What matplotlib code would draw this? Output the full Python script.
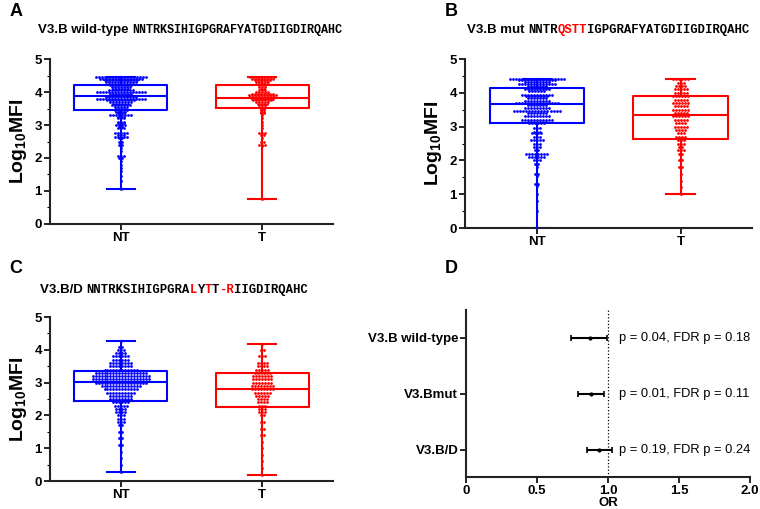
import numpy as np
import matplotlib
matplotlib.use("Agg")
import matplotlib.pyplot as plt
from matplotlib.ticker import MultipleLocator

plt.rcParams['font.family'] = ['Liberation Sans', 'DejaVu Sans']
plt.rcParams['mathtext.fontset'] = 'custom'
plt.rcParams['mathtext.bf'] = 'Liberation Sans:bold'
plt.rcParams['mathtext.rm'] = 'Liberation Sans'

BLUE = '#0000ff'
RED = '#ff0000'

groups = ['NT', 'T']

# Panel A: V3.B wild-type  (level, count)
a_nt_levels = [4.45, 4.40, 4.35, 4.30, 4.25, 4.20, 4.15, 4.10, 4.05, 4.00, 3.95, 3.90, 3.85,
               3.80, 3.75, 3.70, 3.65, 3.60, 3.55, 3.50, 3.45, 3.40, 3.35, 3.30, 3.25, 3.20,
               3.10, 3.05, 3.00, 2.95, 2.90, 2.75, 2.70, 2.65, 2.60, 2.50, 2.40, 2.30, 2.20,
               2.05, 2.00, 1.90, 1.80, 1.70, 1.60, 1.45, 1.30, 1.05]
a_nt_counts = [18, 15, 12, 11, 9, 8, 7, 6, 9, 17, 8, 6, 11,
               17, 10, 8, 6, 7, 5, 4, 5, 4, 3, 8, 3, 3,
               3, 3, 4, 2, 3, 5, 3, 5, 2, 2, 2, 1, 1,
               3, 2, 1, 1, 1, 1, 1, 1, 1]
a_t_levels = [4.45, 4.40, 4.35, 4.30, 4.25, 4.20, 4.15, 4.10, 4.05, 4.00, 3.95, 3.90, 3.85,
              3.80, 3.75, 3.70, 3.65, 3.60, 3.55, 3.50, 3.45, 3.40, 3.35, 3.30, 3.20, 3.10,
              3.00, 2.90, 2.75, 2.70, 2.60, 2.50, 2.40, 2.35, 0.75]
a_t_counts = [9, 8, 6, 5, 4, 3, 3, 2, 3, 5, 8, 10, 9,
              8, 7, 5, 4, 3, 3, 2, 2, 2, 2, 1, 1, 1,
              1, 1, 3, 2, 1, 2, 3, 1, 1]
# box stats: q1, median, q3, min, max
a_nt_box = [3.45, 3.87, 4.20, 1.05, 4.45]
a_t_box = [3.52, 3.82, 4.20, 0.75, 4.45]

# Panel B: V3.B mut
b_nt_levels = [4.42, 4.38, 4.33, 4.25, 4.20, 4.10, 4.05, 3.95, 3.90, 3.85, 3.75, 3.70, 3.65,
               3.55, 3.45, 3.40, 3.30, 3.20, 3.15, 3.10, 2.95, 2.85, 2.80, 2.70, 2.60, 2.50,
               2.40, 2.30, 2.20, 2.10, 2.00, 1.90, 1.80, 1.60, 1.55, 1.30, 1.25, 1.00, 0.80,
               0.50, 0.00]
b_nt_counts = [19, 13, 9, 13, 7, 9, 6, 11, 8, 7, 9, 15, 7,
               9, 16, 7, 9, 11, 7, 6, 3, 3, 4, 3, 5, 3,
               3, 2, 8, 6, 3, 2, 1, 2, 1, 2, 1, 1, 1,
               1, 1]
b_t_levels = [4.40, 4.30, 4.20, 4.10, 4.00, 3.90, 3.80, 3.70, 3.60, 3.50, 3.40, 3.30, 3.20,
              3.10, 3.00, 2.90, 2.80, 2.70, 2.60, 2.50, 2.40, 2.30, 2.20, 2.00, 1.80, 1.60,
              1.40, 1.20, 1.00]
b_t_counts = [6, 3, 4, 5, 5, 6, 5, 6, 5, 6, 5, 6, 5,
              4, 5, 4, 3, 4, 3, 3, 2, 3, 2, 2, 2, 1,
              1, 1, 1]
b_nt_box = [3.12, 3.68, 4.14, 0.00, 4.42]
b_t_box = [2.62, 3.33, 3.90, 1.00, 4.42]

# Panel C: V3.B/D
c_nt_levels = [4.28, 4.10, 4.00, 3.90, 3.80, 3.70, 3.60, 3.50, 3.40, 3.30, 3.20, 3.10, 3.00,
               2.90, 2.80, 2.70, 2.60, 2.50, 2.40, 2.30, 2.20, 2.10, 2.00, 1.90, 1.80, 1.70,
               1.50, 1.30, 1.10, 0.90, 0.70, 0.50, 0.28]
c_nt_counts = [1, 2, 3, 4, 6, 6, 8, 8, 12, 18, 20, 20, 18,
               14, 12, 10, 8, 8, 6, 5, 4, 4, 3, 3, 3, 2,
               2, 2, 2, 1, 1, 1, 1]
c_t_levels = [4.18, 4.00, 3.80, 3.60, 3.50, 3.40, 3.30, 3.20, 3.10, 3.00, 2.90, 2.80, 2.70,
              2.60, 2.50, 2.40, 2.30, 2.20, 2.10, 2.00, 1.80, 1.60, 1.40, 1.20, 1.00, 0.80,
              0.60, 0.40, 0.18]
c_t_counts = [1, 2, 3, 4, 4, 5, 6, 7, 7, 7, 8, 8, 6,
              5, 4, 4, 3, 3, 3, 2, 2, 2, 2, 1, 1, 1,
              1, 1, 1]
c_nt_box = [2.43, 3.02, 3.35, 0.28, 4.28]
c_t_box = [2.25, 2.80, 3.28, 0.18, 4.18]

# Panel D: odds ratios
or_labels = ['V3.B wild-type', 'V3.Bmut', 'V3.B/D']
or_est = [0.87, 0.88, 0.94]
or_low = [0.74, 0.79, 0.85]
or_high = [0.99, 0.97, 1.03]
or_text = ['p = 0.04, FDR p = 0.18', 'p = 0.01, FDR p = 0.11', 'p = 0.19, FDR p = 0.24']


def swarm(levels, counts, center, dx=0.021):
    xs, ys = [], []
    for lv, n in zip(levels, counts):
        off = (np.arange(n) - (n - 1) / 2.0) * dx
        xs.extend(center + off)
        ys.extend([lv] * n)
    return np.array(xs), np.array(ys)


def box_panel(ax, nt, t, nt_box, t_box):
    for i, (pts, bx, col) in enumerate([(nt, nt_box, BLUE), (t, t_box, RED)]):
        stats = [dict(q1=bx[0], med=bx[1], q3=bx[2], whislo=bx[3], whishi=bx[4], fliers=[])]
        lp = dict(color=col, linewidth=1.5)
        ax.bxp(stats, positions=[i], widths=0.66, showfliers=False,
               boxprops=lp, medianprops=lp, whiskerprops=lp, capprops=lp,
               capwidths=0.2, manage_ticks=False, zorder=2)
        x, y = swarm(pts[0], pts[1], i)
        ax.scatter(x, y, s=4, color=col, linewidths=0, zorder=3)
    ax.set_xlim(-0.5, 1.5)
    ax.set_ylim(0, 5)
    ax.set_xticks([0, 1])
    ax.set_xticklabels(groups, fontweight='bold', fontsize=9.5)
    ax.set_yticks(range(6))
    ax.set_yticklabels([str(v) for v in range(6)], fontweight='bold', fontsize=9.5)
    ax.yaxis.set_minor_locator(MultipleLocator(0.5))
    ax.tick_params(axis='both', which='major', length=4, width=1.2, pad=2)
    ax.tick_params(axis='y', which='minor', length=2, width=0.8)
    ax.set_ylabel(r'$\mathbf{Log_{10}MFI}$', fontsize=14, labelpad=4)
    for s in ['top', 'right']:
        ax.spines[s].set_visible(False)
    for s in ['left', 'bottom']:
        ax.spines[s].set_linewidth(1.5)
        ax.spines[s].set_color('#222222')


def seg_text(fig, x, y, segments):
    r = fig.canvas.get_renderer()
    for txt, col, fam, size in segments:
        t = fig.text(x, y, txt, color=col, family=fam, fontsize=size,
                     fontweight='bold', va='center', ha='left')
        bb = t.get_window_extent(renderer=r)
        x = bb.x1 / fig.bbox.width


fig = plt.figure(figsize=(7.6, 5.09), dpi=100)

axA = fig.add_axes([0.066, 0.560, 0.372, 0.324])
box_panel(axA, (a_nt_levels, a_nt_counts), (a_t_levels, a_t_counts), a_nt_box, a_t_box)

axB = fig.add_axes([0.612, 0.552, 0.378, 0.332])
box_panel(axB, (b_nt_levels, b_nt_counts), (b_t_levels, b_t_counts), b_nt_box, b_t_box)

axC = fig.add_axes([0.066, 0.055, 0.372, 0.322])
box_panel(axC, (c_nt_levels, c_nt_counts), (c_t_levels, c_t_counts), c_nt_box, c_t_box)

axD = fig.add_axes([0.613, 0.062, 0.374, 0.329])
ypos = [3, 2, 1]
for yy, e, lo, hi, txt in zip(ypos, or_est, or_low, or_high, or_text):
    axD.errorbar([e], [yy], xerr=[[e - lo], [hi - e]], fmt='o', color='black',
                 markersize=2, elinewidth=1.5, capsize=2, capthick=1.2)
    axD.text(1.08, yy, txt, fontsize=9.3, va='center', ha='left')
axD.axvline(1.0, color='black', linestyle=':', linewidth=0.9)
axD.set_xlim(0, 2.0)
axD.set_ylim(0.5, 3.5)
axD.set_xticks([0, 0.5, 1.0, 1.5, 2.0])
axD.set_xticklabels(['0', '0.5', '1.0', '1.5', '2.0'], fontweight='bold', fontsize=9.5)
axD.set_yticks(ypos)
axD.set_yticklabels(or_labels, fontweight='bold', fontsize=9.5)
axD.set_xlabel('OR', fontweight='bold', fontsize=9.5, labelpad=0)
axD.tick_params(axis='both', length=4, width=1.2, pad=1.5)
for s in ['top', 'right']:
    axD.spines[s].set_visible(False)
for s in ['left', 'bottom']:
    axD.spines[s].set_linewidth(1.5)
    axD.spines[s].set_color('#222222')

# panel letters
for lbl, x, y in [('A', 0.012, 0.978), ('B', 0.585, 0.978), ('C', 0.012, 0.472), ('D', 0.585, 0.472)]:
    fig.text(x, y, lbl, fontsize=13, fontweight='bold', va='center', ha='left')

mono = 'Liberation Mono'
sans = 'Liberation Sans'
k = 'black'
seg_text(fig, 0.050, 0.941, [('V3.B wild-type ', k, sans, 9.5),
                             ('NNTRKSIHIGPGRAFYATGDIIGDIRQAHC', k, mono, 8.5)])
seg_text(fig, 0.614, 0.941, [('V3.B mut ', k, sans, 9.5),
                             ('NNTR', k, mono, 8.8), ('QSTT', RED, mono, 8.8),
                             ('IGPGRAFYATGDIIGDIRQAHC', k, mono, 8.8)])
seg_text(fig, 0.053, 0.430, [('V3.B/D ', k, sans, 9.5),
                             ('NNTRKSIHIGPGRA', k, mono, 8.8), ('L', RED, mono, 8.8),
                             ('Y', k, mono, 8.8), ('T', RED, mono, 8.8), ('T', k, mono, 8.8),
                             ('-R', RED, mono, 8.8), ('IIGDIRQAHC', k, mono, 8.8)])

fig.savefig('out.png', dpi=100)
